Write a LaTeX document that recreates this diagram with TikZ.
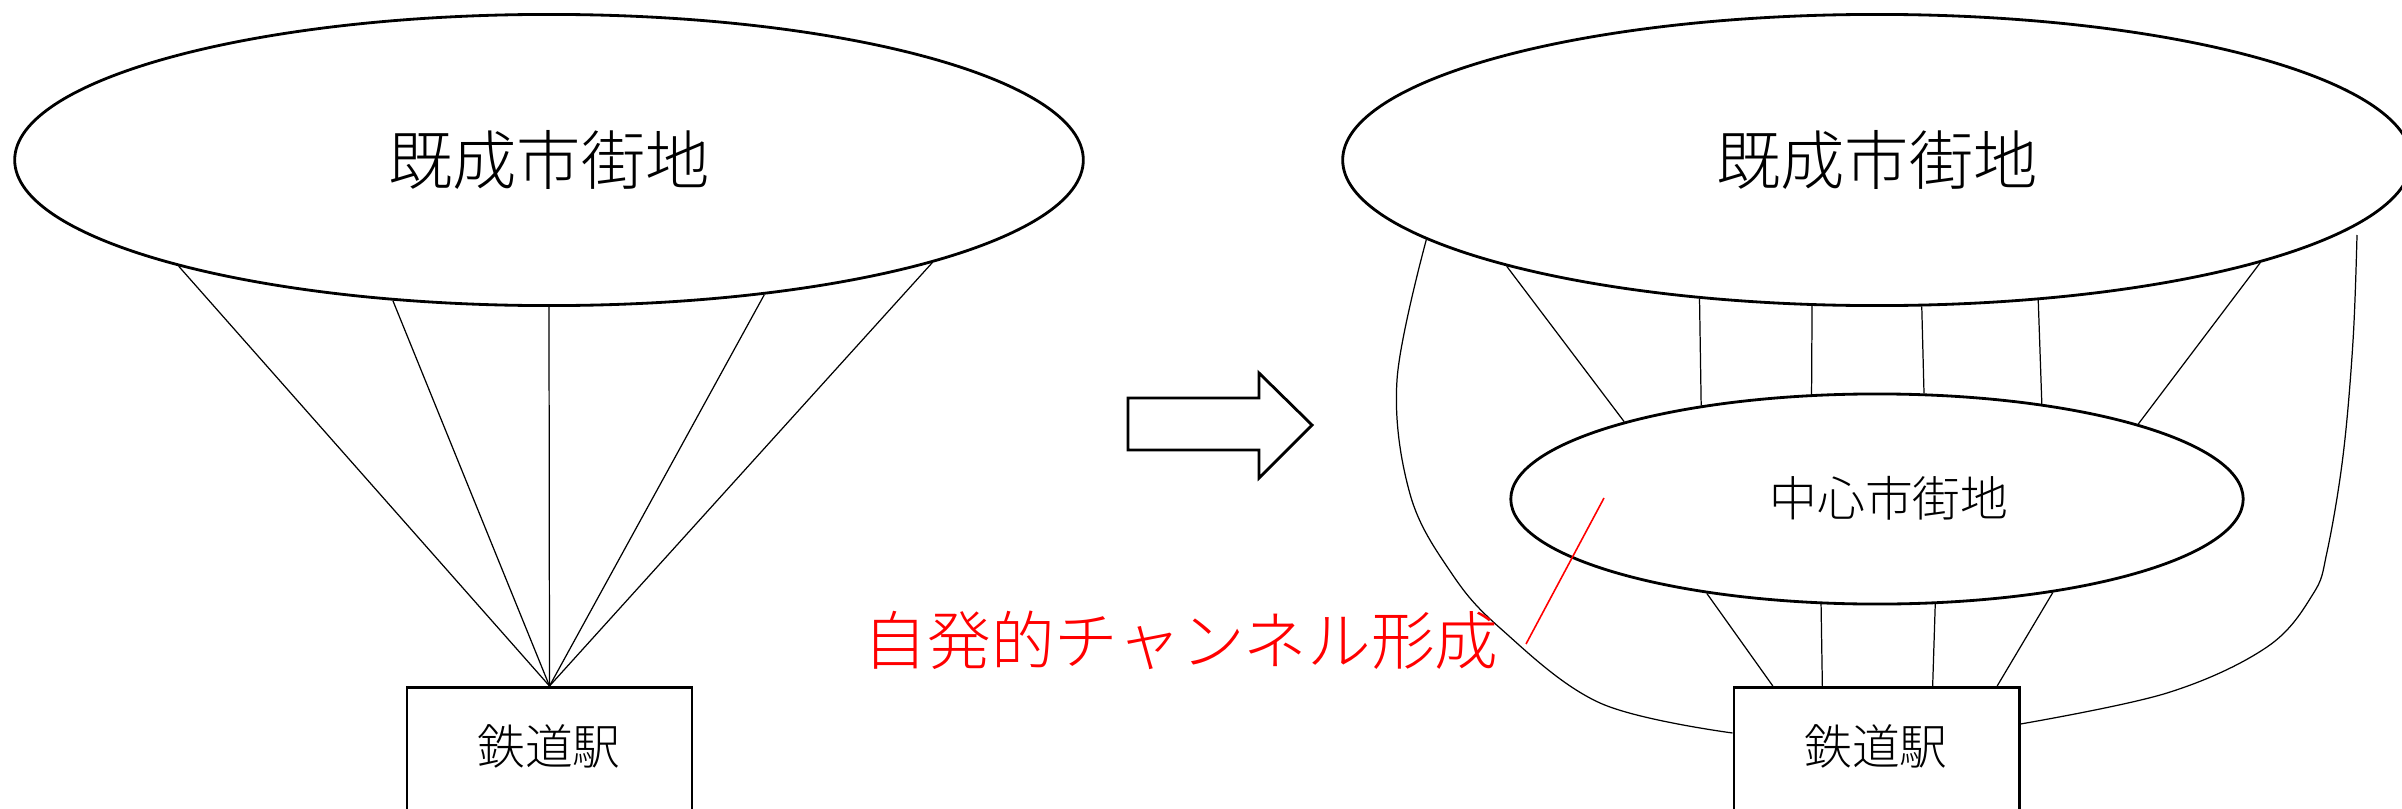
\documentclass[tikz,border=0pt]{standalone}
\usepackage{fontspec}
\newfontfamily\jpfont{Noto Sans CJK JP Light}
\usetikzlibrary{shapes.geometric,calc}
\begin{document}
\begin{tikzpicture}[x=0.01cm,y=-0.01cm,
  bigell/.style={ellipse,draw,line width=0.8pt,minimum width=10.68cm,minimum height=2.91cm,inner sep=0pt,
    font=\jpfont\fontsize{18.3}{22}\selectfont},
  midell/.style={ellipse,draw,line width=0.8pt,minimum width=7.32cm,minimum height=2.10cm,inner sep=0pt},
  stationbox/.style={rectangle,draw,line width=0.8pt,minimum width=2.85cm,minimum height=2.0cm,inner sep=0pt,anchor=north},
  smalltext/.style={font=\jpfont\fontsize{13.6}{16}\selectfont,inner sep=0pt},
  redtext/.style={font=\jpfont\fontsize{18.1}{22}\selectfont,text=red,inner sep=0pt},
  thinline/.style={line width=0.35pt},
  redline/.style={line width=0.45pt,draw=red},
  blockarrow/.style={line width=0.8pt,line join=miter}]
\useasboundingbox (0,0) rectangle (2402,809);

% ---------- left picture ----------
\node[bigell] (L) at (549,160) {既成市街地};
\node[stationbox] (lbox) at (549.5,686) {};
\node[smalltext] (ltext) at (549,746) {鉄道駅};
\foreach \a in {-164.64,-138.1,-90,-32.1,-15.3}
  \draw[thinline] (L.\a) -- (lbox.north);

% ---------- arrow ----------
\draw[blockarrow] (1128,398) -- (1259,398) -- (1259,373) -- (1312,425) -- (1259,478) -- (1259,450) -- (1128,450) -- cycle;

% ---------- right picture ----------
\node[bigell] (R) at (1877,160) {既成市街地};
\node[midell] (C) at (1877,499) {};
\node[smalltext] (ctext) at (1889,498) {中心市街地};
\node[stationbox] (rbox) at (1876.5,686) {};
\node[smalltext] (rtext) at (1876,746) {鉄道駅};

% links big ellipse -> centre ellipse
\draw[thinline] (R.-164.58) -- (C.163.71);
\draw[thinline] (R.-142.06) -- (C.152.06);
\draw[thinline] (R.-114.15) -- (C.122.0);
\draw[thinline] (R.-73.34) -- (C.66.67);
\draw[thinline] (R.-41.0) -- (C.30.96);
\draw[thinline] (R.-15.46) -- (C.16.15);

% links centre ellipse -> station
\draw[thinline] (C.-151.54) -- ($(rbox.north west)!0.140!(rbox.north east)$);
\draw[thinline] (C.-118.86) -- ($(rbox.north west)!0.312!(rbox.north east)$);
\draw[thinline] (C.-61.19) -- ($(rbox.north west)!0.695!(rbox.north east)$);
\draw[thinline] (C.-28.28) -- ($(rbox.north west)!0.919!(rbox.north east)$);

% spontaneous channels (curves)
\coordinate (lcs) at (R.-170.42);
\coordinate (lce) at ($(rbox.north west)+(0,47)$);
\coordinate (rcs) at (2357,235);
\coordinate (rce) at ($(rbox.north east)+(0,38)$);
\draw[thinline] plot[smooth,tension=0.6] coordinates {(lcs) (1397,380) (1410,494) (1450,571) (1500,628) (1600,703) (lce)};
\draw[thinline] plot[smooth,tension=0.6] coordinates {(rcs) (2353,341) (2343,456) (2327,552) (2313,594) (2267,647) (2167,693) (rce)};

% red label and leader
\node[redtext] (chan) at (1181,640) {自発的チャンネル形成};
\coordinate (rl1) at (1604,498);
\coordinate (rl2) at (1526,644);
\draw[redline] (rl1) -- (rl2);
\end{tikzpicture}
\end{document}
